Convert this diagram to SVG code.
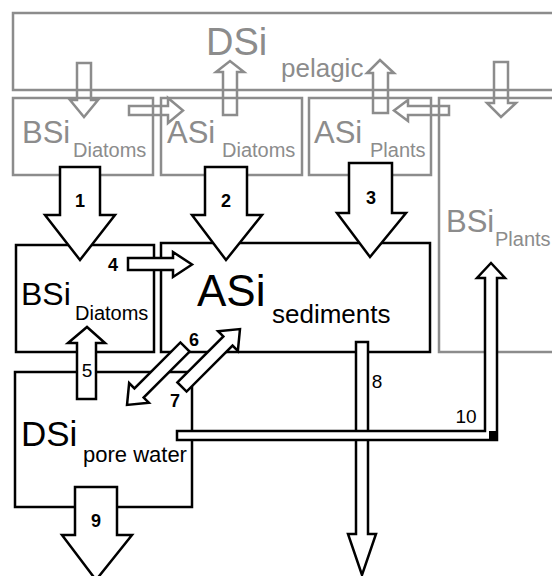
<svg xmlns="http://www.w3.org/2000/svg" width="552" height="576" viewBox="0 0 552 576">
<style>
  .gbox{fill:none;stroke:#8c8c8c;stroke-width:2.5}
  .garr{fill:none;stroke:#8c8c8c;stroke-width:2.5;stroke-linejoin:miter}
  .bbox{fill:none;stroke:#000;stroke-width:2.5}
  .barr{fill:#fff;stroke:#000;stroke-width:2.5;stroke-linejoin:miter}
  text{font-family:"Liberation Sans",Arial,sans-serif}
  .gt{fill:#8c8c8c}
  .bt{fill:#000}
  .num{font-weight:bold;font-size:18px;text-anchor:middle;fill:#000}
  .numr{font-size:19px;text-anchor:middle;fill:#000}
</style>
<rect width="552" height="576" fill="#fff"/>

<g id="dsi-pelagic">
  <rect class="gbox" x="13" y="13" width="560" height="77"/>
  <text class="gt" x="206" y="55" font-size="38">DSi</text>
  <text class="gt" x="281" y="77" font-size="26">pelagic</text>
</g>
<g id="bsi-diatoms-pelagic">
  <rect class="gbox" x="13" y="98" width="140" height="77"/>
  <text class="gt" x="22" y="143" font-size="31">BSi</text>
  <text class="gt" x="73" y="157" font-size="20">Diatoms</text>
</g>
<g id="asi-diatoms">
  <rect class="gbox" x="161" y="98" width="141" height="77"/>
  <text class="gt" x="167" y="143" font-size="31">ASi</text>
  <text class="gt" x="222" y="157" font-size="20">Diatoms</text>
</g>
<g id="asi-plants">
  <rect class="gbox" x="309" y="98" width="122" height="77"/>
  <text class="gt" x="314" y="143" font-size="31">ASi</text>
  <text class="gt" x="370" y="157" font-size="20">Plants</text>
</g>
<g id="bsi-plants">
  <rect class="gbox" x="439" y="98" width="140" height="254"/>
  <text class="gt" x="446" y="232" font-size="31">BSi</text>
  <text class="gt" x="495" y="246" font-size="20">Plants</text>
</g>
<g id="bsi-diatoms-sed">
  <rect class="bbox" x="16" y="245" width="138" height="107"/>
  <text class="bt" x="21" y="305" font-size="32">BSi</text>
  <text class="bt" x="75" y="320" font-size="20">Diatoms</text>
</g>
<g id="asi-sediments">
  <rect class="bbox" x="161" y="243" width="269" height="109"/>
  <text class="bt" x="197" y="306" font-size="44">ASi</text>
  <text class="bt" x="272" y="323" font-size="26">sediments</text>
</g>
<g id="dsi-pore-water">
  <rect class="bbox" x="15" y="372" width="177" height="135"/>
  <text class="bt" x="21" y="446" font-size="35">DSi</text>
  <text class="bt" x="83" y="462" font-size="22">pore water</text>
</g>

<g id="connectors">
  <path class="garr" d="M77,63 H91 V100 H98 L84,117 L70,100 H77 Z"/>
  <path class="garr" d="M129,106 H168 V98 L183,110.5 L168,123 V115 H129 Z"/>
  <path class="garr" d="M223,115 V72 H216 L230,61 L244,72 H237 V115 Z"/>
  <path class="garr" d="M373,113 V73 H367 L380,60 L394,73 H388 V113 Z"/>
  <path class="garr" d="M449,106 H408 V100 L394,110.5 L408,121 V115 H449 Z"/>
  <path class="garr" d="M494,62 H508 V103 H516 L501,117 L487,103 H494 Z"/>

  <path class="barr" d="M60,167 H100 V215 H115 L80,260 L45,215 H60 Z"/>
  <path class="barr" d="M205,167 H247 V215 H262 L226,260 L192,215 H205 Z"/>
  <path class="barr" d="M349,163 H392 V213 H406 L370,257 L337,213 H349 Z"/>
  <path class="barr" d="M128,258 H173 V252 L192,264.5 L173,277 V270 H128 Z"/>
  <path class="barr" d="M77,399 V343 H68 L87,327 L105,343 H96 V399 Z"/>
  <path class="barr" transform="translate(185,347) rotate(135)" d="M0,-6.5 H65 V-14 L82,0 L65,14 V6.5 H0 Z"/>
  <path class="barr" transform="translate(182,387) rotate(-45)" d="M0,-6.5 H65 V-14 L82,0 L65,14 V6.5 H0 Z"/>
  <path class="barr" d="M356,342 H368 V534 H376 L362,575 L348,534 H356 Z"/>
  <path class="barr" d="M75,487 H117 V535 H132 L96,580 L62,535 H75 Z"/>
  <path class="barr" d="M177,431 H485 V278 H477 L491,263 L505,278 H497 V440 H177 Z"/>
  <rect x="489" y="431" width="8" height="10" fill="#000"/>

  <text class="num" x="80" y="207">1</text>
  <text class="num" x="226" y="207">2</text>
  <text class="num" x="371" y="204">3</text>
  <text class="num" x="113" y="271">4</text>
  <text class="numr" x="87" y="377">5</text>
  <text class="num" x="194" y="346">6</text>
  <text class="num" x="175" y="407">7</text>
  <text class="numr" x="377" y="388">8</text>
  <text class="num" x="96" y="527">9</text>
  <text class="numr" x="466" y="423">10</text>
</g>
</svg>
